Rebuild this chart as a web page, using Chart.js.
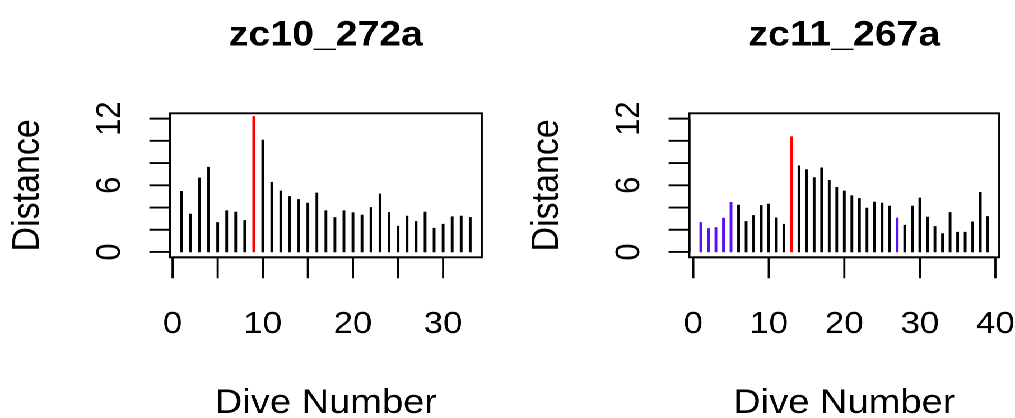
<!DOCTYPE html>
<html>
<head>
<meta charset="utf-8">
<title>Dive distance</title>
<script src="https://cdn.jsdelivr.net/npm/chart.js@4.4.0/dist/chart.umd.min.js"></script>
<style>
  html, body { margin: 0; padding: 0; background: #ffffff; overflow: hidden; }
  /* the original plot is a bit wider than tall in its glyphs, so stretch horizontally */
  #stage { position: absolute; left: 0; top: 0; width: 906px; height: 418px;
           transform: scaleX(1.1203); transform-origin: 0 0; }
  .panel { position: absolute; top: 0; width: 453px; height: 418px; }
  #panelA { left: 0; }
  #panelB { left: 453px; }
</style>
</head>
<body>
<div id="stage">
  <div class="panel" id="panelA"><canvas id="chartA" width="453" height="418"></canvas></div>
  <div class="panel" id="panelB"><canvas id="chartB" width="453" height="418"></canvas></div>
</div>
<script>
// ---- data ----
const titleA = 'zc10_272a';
const diveA = [1, 2, 3, 4, 5, 6, 7, 8, 9, 10, 11, 12, 13, 14, 15, 16, 17, 18, 19, 20,
               21, 22, 23, 24, 25, 26, 27, 28, 29, 30, 31, 32, 33];
const distA = [5.46, 3.41, 6.66, 7.63, 2.66, 3.71, 3.59, 2.84, 12.2, 10.07,
               6.27, 5.49, 5.0, 4.73, 4.40, 5.31, 3.71, 3.11, 3.71, 3.53,
               3.32, 4.01, 5.22, 3.56, 2.32, 3.23, 2.75, 3.59, 2.14, 2.50,
               3.17, 3.23, 3.11];
const redA = [9];
const blueA = [];

const titleB = 'zc11_267a';
const diveB = [1, 2, 3, 4, 5, 6, 7, 8, 9, 10, 11, 12, 13, 14, 15, 16, 17, 18, 19, 20,
               21, 22, 23, 24, 25, 26, 27, 28, 29, 30, 31, 32, 33, 34, 35, 36, 37, 38, 39];
const distB = [2.66, 2.12, 2.21, 3.05, 4.47, 4.22, 2.75, 3.29, 4.19, 4.31,
               3.07, 2.50, 10.37, 7.75, 7.41, 6.69, 7.57, 6.45, 5.82, 5.49,
               5.06, 4.82, 3.95, 4.49, 4.40, 4.13, 3.05, 2.41, 4.13, 4.86,
               3.14, 2.30, 1.66, 3.56, 1.78, 1.78, 2.71, 5.37, 3.20];
const redB = [13];
const blueB = [1, 2, 3, 4, 5, 27];

const xTicksA = [0, 5, 10, 15, 20, 25, 30];
const xLabelsA = [0, 10, 20, 30];
const xTicksB = [0, 10, 20, 30, 40];
const xLabelsB = [0, 10, 20, 30, 40];
const yTicks = [0, 2, 4, 6, 8, 10, 12];
const yLabels = [0, 6, 12];
const yLimit = [0, 12];

const xTitle = 'Dive Number';
const yTitle = 'Distance';

// ---- styles ----
const colors = { normal: '#000000', red: '#ff0000', blue: '#5a10f0' };
const fontFamily = "'Liberation Sans', Arial, Helvetica, sans-serif";

// R-like axes: box round the plot region, axes drawn only over the tick range
const baseAxes = {
  id: 'baseAxes',
  afterDraw(chart) {
    const o = chart.options.plugins.baseAxes;
    const ctx = chart.ctx;
    const ca = chart.chartArea;
    const xs = chart.scales.x;
    const ys = chart.scales.y;
    const midX = (ca.left + ca.right) / 2;
    const midY = (ca.top + ca.bottom) / 2;

    ctx.save();
    ctx.strokeStyle = '#000';
    ctx.fillStyle = '#000';
    ctx.lineWidth = 1.9;
    ctx.strokeRect(ca.left, ca.top, ca.right - ca.left, ca.bottom - ca.top);

    // x axis
    const xFirst = xs.getPixelForValue(o.xTicks[0]);
    const xLast = xs.getPixelForValue(o.xTicks[o.xTicks.length - 1]);
    ctx.beginPath();
    ctx.moveTo(xFirst, ca.bottom);
    ctx.lineTo(xLast, ca.bottom);
    o.xTicks.forEach(function(v) {
      const px = xs.getPixelForValue(v);
      ctx.moveTo(px, ca.bottom);
      ctx.lineTo(px, ca.bottom + 21);
    });
    ctx.stroke();

    ctx.font = '31px ' + fontFamily;
    ctx.textAlign = 'center';
    ctx.textBaseline = 'alphabetic';
    o.xLabels.forEach(function(v) {
      ctx.fillText(String(v), xs.getPixelForValue(v), 333);
    });

    // y axis
    const yFirst = ys.getPixelForValue(o.yTicks[0]);
    const yLast = ys.getPixelForValue(o.yTicks[o.yTicks.length - 1]);
    ctx.beginPath();
    ctx.moveTo(ca.left, yFirst);
    ctx.lineTo(ca.left, yLast);
    o.yTicks.forEach(function(v) {
      const py = ys.getPixelForValue(v);
      ctx.moveTo(ca.left, py);
      ctx.lineTo(ca.left - 18.5, py);
    });
    ctx.stroke();

    o.yLabels.forEach(function(v) {
      ctx.save();
      ctx.translate(ca.left - 45, ys.getPixelForValue(v));
      ctx.rotate(-Math.PI / 2);
      ctx.fillText(String(v), 0, 0);
      ctx.restore();
    });

    // titles
    ctx.font = '34px ' + fontFamily;
    ctx.fillText(o.xTitle, midX, 413);
    ctx.save();
    ctx.translate(ca.left - 117.5, midY);
    ctx.rotate(-Math.PI / 2);
    ctx.fillText(o.yTitle, 0, 0);
    ctx.restore();

    ctx.font = 'bold 35px ' + fontFamily;
    ctx.fillText(o.title, midX, 45.7);
    ctx.restore();
  }
};

function barColors(dives, red, blue) {
  return dives.map(function(d) {
    if (red.indexOf(d) >= 0) return colors.red;
    if (blue.indexOf(d) >= 0) return colors.blue;
    return colors.normal;
  });
}

function makePanel(canvasId, title, dives, dist, red, blue, xTicks, xLabels, padding) {
  // R pads the data range by 4% on each side
  const xPad = 0.04 * (dives[dives.length - 1] - dives[0]);
  const yPad = 0.04 * (yLimit[1] - yLimit[0]);
  const points = dives.map(function(d, i) { return { x: d, y: dist[i] }; });

  return new Chart(document.getElementById(canvasId), {
    type: 'bar',
    data: {
      datasets: [{
        data: points,
        backgroundColor: barColors(dives, red, blue),
        borderWidth: 0,
        barThickness: 1.8
      }]
    },
    options: {
      responsive: false,
      animation: false,
      devicePixelRatio: 2,
      events: [],
      layout: { padding: padding },
      scales: {
        x: { type: 'linear', display: false, offset: false,
             min: dives[0] - xPad, max: dives[dives.length - 1] + xPad },
        y: { type: 'linear', display: false, min: yLimit[0] - yPad, max: yLimit[1] + yPad }
      },
      plugins: {
        legend: { display: false },
        tooltip: { enabled: false },
        baseAxes: {
          title: title, xTitle: xTitle, yTitle: yTitle,
          xTicks: xTicks, xLabels: xLabels, yTicks: yTicks, yLabels: yLabels
        }
      }
    },
    plugins: [baseAxes]
  });
}

makePanel('chartA', titleA, diveA, distA, redA, blueA, xTicksA, xLabelsA,
  { left: 151.8, right: 23, top: 113.3, bottom: 160.7 });
makePanel('chartB', titleB, diveB, distB, redB, blueB, xTicksB, xLabelsB,
  { left: 162.3, right: 14, top: 113.3, bottom: 160.7 });
</script>
</body>
</html>
